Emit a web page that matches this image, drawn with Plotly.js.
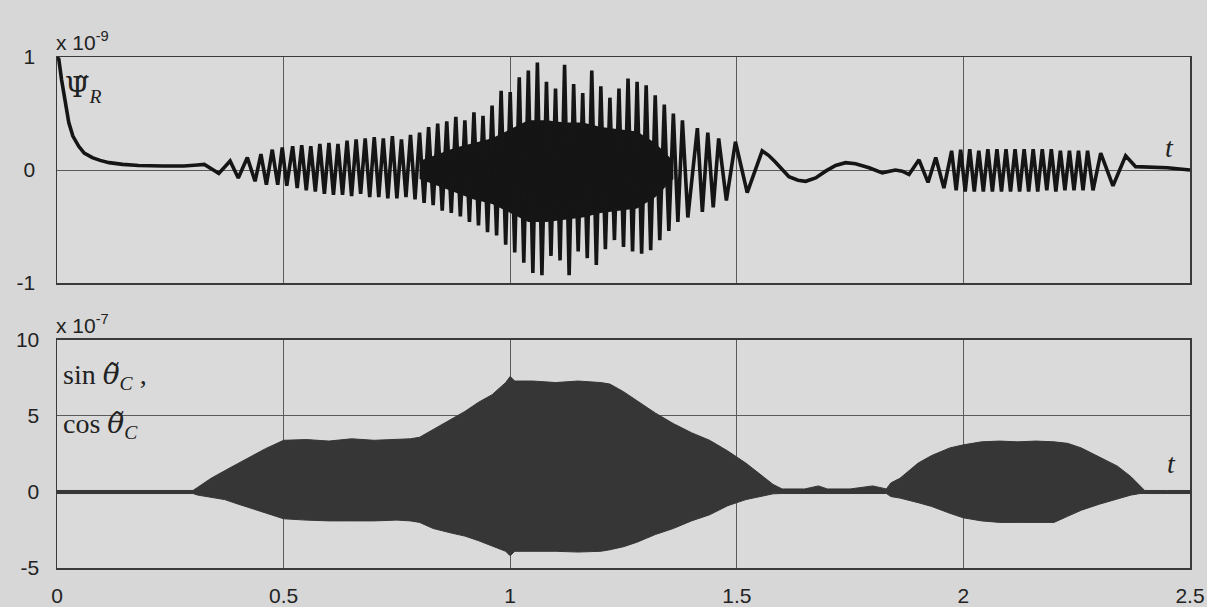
<!DOCTYPE html>
<html>
<head>
<meta charset="utf-8">
<script src="https://cdn.plot.ly/plotly-3.0.1.min.js"></script>
<style>
html,body{margin:0;padding:0;background:#d7d7d7;}
#chart{width:1207px;height:607px;}
</style>
</head>
<body>
<div id="chart"></div>
<script>
// ---------- DATA ----------
// x axis ticks
const xTickVals = [0, 0.5, 1, 1.5, 2, 2.5];
const xTickText = ["0", "0.5", "1", "1.5", "2", "2.5"];
// top panel y ticks (x 10^-9)
const psiTickVals = [-1, 0, 1];
const psiTickText = ["-1", "0", "1"];
// bottom panel y ticks (x 10^-7)
const thetaTickVals = [-5, 0, 5, 10];
const thetaTickText = ["-5", "0", "5", "10"];

// Psi_R : initial decay
const decayT = [0,0.004,0.01,0.015,0.02,0.026,0.035,0.048,0.06,0.078,0.095,0.115,0.145,0.18,0.234,0.28,0.31,0.325,0.345,0.357];
const decayV = [1.0,0.98,0.80,0.68,0.55,0.42,0.30,0.21,0.15,0.11,0.085,0.065,0.05,0.04,0.035,0.035,0.045,0.05,0.0,-0.03];

// Psi_R : first oscillation burst (successive extrema)
const burst1T = [0.382,0.40,0.42,0.437,0.45,0.462,0.475,0.487,0.497,0.507,
  0.52,0.53,0.54,0.55,0.56,0.57,0.58,0.59,0.60,0.61,0.62,0.63,0.64,0.65,0.66,0.67,0.68,0.69,0.70,0.71,
  0.72,0.73,0.74,0.75,0.76,0.77,0.78,0.79,0.80,0.81,0.82,0.83,0.84,0.85,0.86,0.87,0.88,0.89,0.90,0.91,
  0.92,0.93,0.94,0.95,0.96,0.97,0.98,0.99,1.00,1.01,1.02,1.03,1.04,1.05,1.06,1.07,1.08,1.09,1.10,1.11,
  1.12,1.13,1.14,1.15,1.16,1.17,1.18,1.19,1.20,1.21,1.22,1.23,1.24,1.25,1.26,1.27,1.28,1.29,1.30,1.31,
  1.32,1.33,1.34,1.35,1.36,1.37,
  1.38,1.392,1.413,1.424,1.436,1.448,1.46,1.477,1.497,1.523,1.556];
const burst1V = [0.08,-0.07,0.11,-0.10,0.14,-0.13,0.18,-0.13,0.20,-0.14,
  0.21,-0.16,0.22,-0.18,0.21,-0.19,0.23,-0.21,0.24,-0.22,0.23,-0.22,0.26,-0.23,0.27,-0.21,0.28,-0.24,0.29,-0.24,
  0.28,-0.25,0.30,-0.25,0.27,-0.24,0.31,-0.26,0.33,-0.29,0.38,-0.31,0.41,-0.36,0.43,-0.38,0.47,-0.41,0.44,-0.46,
  0.51,-0.49,0.48,-0.55,0.57,-0.58,0.70,-0.66,0.69,-0.73,0.82,-0.82,0.88,-0.91,0.95,-0.93,0.78,-0.76,0.72,-0.80,
  0.93,-0.93,0.76,-0.72,0.68,-0.78,0.88,-0.84,0.74,-0.70,0.64,-0.62,0.72,-0.68,0.81,-0.72,0.78,-0.74,0.75,-0.71,
  0.66,-0.62,0.58,-0.54,0.50,-0.46,
  0.44,-0.42,0.37,-0.37,0.33,-0.33,0.28,-0.27,0.25,-0.20,0.17];

// Psi_R : slow swing between the bursts
const slowT = [1.57,1.585,1.60,1.615,1.635,1.652,1.674,1.696,1.718,1.74,1.762,1.792,1.821,1.85,1.865,1.88];
const slowV = [0.13,0.07,0.0,-0.06,-0.09,-0.10,-0.07,-0.01,0.04,0.065,0.055,0.02,-0.025,0.0,-0.01,-0.04];

// Psi_R : second burst and tail
const burst2T = [1.902,1.922,1.939,1.957,1.974,1.984,
  1.994,2.004,2.014,2.024,2.034,2.044,2.054,2.064,2.074,2.084,2.094,2.104,2.114,2.124,2.134,
  2.144,2.154,2.164,2.174,2.184,2.194,2.204,2.214,2.224,2.234,2.244,2.254,2.264,2.274,
  2.286,2.303,2.33,2.358,2.38,2.45,2.5];
const burst2V = [0.09,-0.11,0.11,-0.16,0.17,-0.18,
  0.18,-0.19,0.185,-0.19,0.17,-0.19,0.185,-0.19,0.185,-0.19,0.185,-0.19,0.185,-0.19,0.185,
  -0.19,0.185,-0.19,0.185,-0.18,0.185,-0.19,0.17,-0.18,0.17,-0.18,0.17,-0.18,0.17,
  -0.18,0.15,-0.14,0.125,0.03,0.02,0.0];

// Psi_R : densely filled core of the main burst
const coreT  = [0.80,0.84,0.88,0.92,0.96,1.00,1.04,1.08,1.12,1.16,1.20,1.24,1.28,1.32,1.36];
const coreHi = [0.08,0.14,0.20,0.24,0.28,0.36,0.44,0.44,0.42,0.42,0.38,0.36,0.34,0.24,0.08];
const coreLo = [-0.08,-0.14,-0.20,-0.26,-0.30,-0.38,-0.46,-0.46,-0.44,-0.42,-0.38,-0.36,-0.34,-0.24,-0.08];

// sin/cos theta_C : envelope of the filled band
const thetaT = [0,0.30,0.31,0.34,0.37,0.40,0.43,0.46,0.50,0.55,0.60,0.65,0.70,0.75,0.78,0.80,0.83,0.87,0.90,0.93,
  0.96,0.99,1.00,1.01,1.05,1.10,1.15,1.20,1.22,1.25,1.28,1.32,1.36,1.40,1.44,1.48,1.52,1.55,1.58,1.60,
  1.65,1.68,1.70,1.75,1.80,1.83,1.84,1.86,1.90,1.93,1.97,2.00,2.04,2.08,2.12,2.16,2.20,2.23,2.26,2.30,
  2.34,2.37,2.39,2.40,2.45,2.5];
const thetaHi = [0.1,0.1,0.3,0.9,1.4,1.9,2.4,2.85,3.4,3.45,3.35,3.5,3.4,3.45,3.5,3.6,4.1,4.8,5.3,5.9,
  6.4,7.2,7.6,7.3,7.3,7.2,7.3,7.2,7.1,6.6,6.0,5.2,4.5,3.9,3.4,2.7,1.9,1.2,0.5,0.2,
  0.2,0.4,0.2,0.2,0.4,0.2,0.6,0.9,1.9,2.4,2.9,3.1,3.3,3.35,3.3,3.35,3.3,3.2,2.9,2.3,
  1.7,1.0,0.4,0.1,0.1,0.1];
const thetaLo = [-0.1,-0.1,-0.2,-0.35,-0.5,-0.8,-1.1,-1.35,-1.76,-1.85,-1.9,-1.9,-1.9,-1.85,-1.9,-2.0,-2.4,-2.7,-2.9,-3.2,
  -3.55,-3.9,-4.2,-3.9,-3.9,-3.9,-3.95,-3.9,-3.8,-3.6,-3.3,-2.8,-2.4,-1.9,-1.5,-0.9,-0.5,-0.3,-0.12,-0.1,
  -0.1,-0.1,-0.1,-0.1,-0.1,-0.1,-0.3,-0.4,-0.7,-0.95,-1.4,-1.7,-1.9,-2.0,-2.0,-2.0,-2.0,-1.6,-1.2,-0.8,
  -0.45,-0.2,-0.1,-0.1,-0.1,-0.1];

// ---------- BUILD ----------
const psiT = decayT.concat(burst1T, slowT, burst2T);
const psiV = decayV.concat(burst1V, slowV, burst2V);

const ink = '#151515';
const traces = [
  { // dense core (top)
    x: coreT.concat(coreT.slice().reverse()),
    y: coreHi.concat(coreLo.slice().reverse()),
    xaxis: 'x2', yaxis: 'y2', type: 'scatter', mode: 'lines',
    fill: 'toself', fillcolor: ink, line: {width: 0, color: ink},
    hoverinfo: 'skip', showlegend: false
  },
  { // Psi_R line
    x: psiT, y: psiV, xaxis: 'x2', yaxis: 'y2', type: 'scatter', mode: 'lines',
    line: {color: ink, width: 3.6}, showlegend: false
  },
  { // theta band lower
    x: thetaT, y: thetaLo, xaxis: 'x', yaxis: 'y', type: 'scatter', mode: 'lines',
    line: {color: '#363636', width: 1}, showlegend: false
  },
  { // theta band upper
    x: thetaT, y: thetaHi, xaxis: 'x', yaxis: 'y', type: 'scatter', mode: 'lines',
    fill: 'tonexty', fillcolor: '#363636',
    line: {color: '#363636', width: 1}, showlegend: false
  }
];

const tickFont = {family: 'Liberation Sans, Arial, sans-serif', size: 21, color: '#222'};
const serif = 'Liberation Serif, Times New Roman, serif';
const labFont = {family: serif, size: 28, color: '#222'};
const accent = (s) => '<span style="font-family:DejaVu Serif">' + s + '\u0303</span>';
const axCommon = {
  showline: true, mirror: true, linecolor: '#3a3a3a', linewidth: 1.5,
  showgrid: true, gridcolor: '#5a5a5a', gridwidth: 1,
  zeroline: false, ticks: '', tickfont: tickFont, fixedrange: true
};

const layout = {
  width: 1207, height: 607,
  margin: {l: 57, r: 17, t: 57, b: 39},
  paper_bgcolor: '#d7d7d7', plot_bgcolor: '#dadada',
  showlegend: false,
  xaxis: Object.assign({}, axCommon, {
    domain: [0, 1], anchor: 'y', range: [0, 2.5],
    tickvals: xTickVals, ticktext: xTickText, ticklabelstandoff: 8
  }),
  yaxis: Object.assign({}, axCommon, {
    domain: [0, 0.4462], anchor: 'x', range: [-5, 10],
    tickvals: thetaTickVals, ticktext: thetaTickText, ticklabelstandoff: 12
  }),
  xaxis2: Object.assign({}, axCommon, {
    domain: [0, 1], anchor: 'y2', range: [0, 2.5], matches: 'x',
    tick0: 0, dtick: 0.5, tickmode: 'linear', showticklabels: false
  }),
  yaxis2: Object.assign({}, axCommon, {
    domain: [0.5577, 1], anchor: 'x2', range: [-1, 1],
    tickvals: psiTickVals, ticktext: psiTickText, ticklabelstandoff: 16
  }),
  annotations: [
    {xref: 'paper', yref: 'paper', x: -0.003, y: 1, xanchor: 'left', yanchor: 'bottom', yshift: 1,
     text: 'x 10<sup>-9</sup>', showarrow: false, font: {family: tickFont.family, size: 21, color: '#222'}},
    {xref: 'paper', yref: 'paper', x: -0.003, y: 0.4462, xanchor: 'left', yanchor: 'bottom', yshift: 1,
     text: 'x 10<sup>-7</sup>', showarrow: false, font: {family: tickFont.family, size: 21, color: '#222'}},
    // Psi_R label
    {xref: 'x2', yref: 'y2', x: 0.014, y: 0.72, xanchor: 'left', yanchor: 'middle',
     text: accent('Ψ') + '<sub><i>R</i></sub>', showarrow: false, font: labFont},
    {xref: 'x2', yref: 'y2', x: 2.455, y: 0.2, xanchor: 'center', yanchor: 'middle',
     text: '<i>t</i>', showarrow: false, font: labFont},
    // sin / cos theta_C labels
    {xref: 'x', yref: 'y', x: 0.008, y: 7.6, xanchor: 'left', yanchor: 'middle',
     text: 'sin <i>' + accent('θ') + '</i><sub><i>C</i></sub> ,', showarrow: false, font: labFont},
    {xref: 'x', yref: 'y', x: 0.008, y: 4.4, xanchor: 'left', yanchor: 'middle',
     text: 'cos <i>' + accent('θ') + '</i><sub><i>C</i></sub>', showarrow: false, font: labFont},
    {xref: 'x', yref: 'y', x: 2.46, y: 1.9, xanchor: 'center', yanchor: 'middle',
     text: '<i>t</i>', showarrow: false, font: labFont}
  ]
};

Plotly.newPlot('chart', traces, layout, {displayModeBar: false, staticPlot: true});
</script>
</body>
</html>
